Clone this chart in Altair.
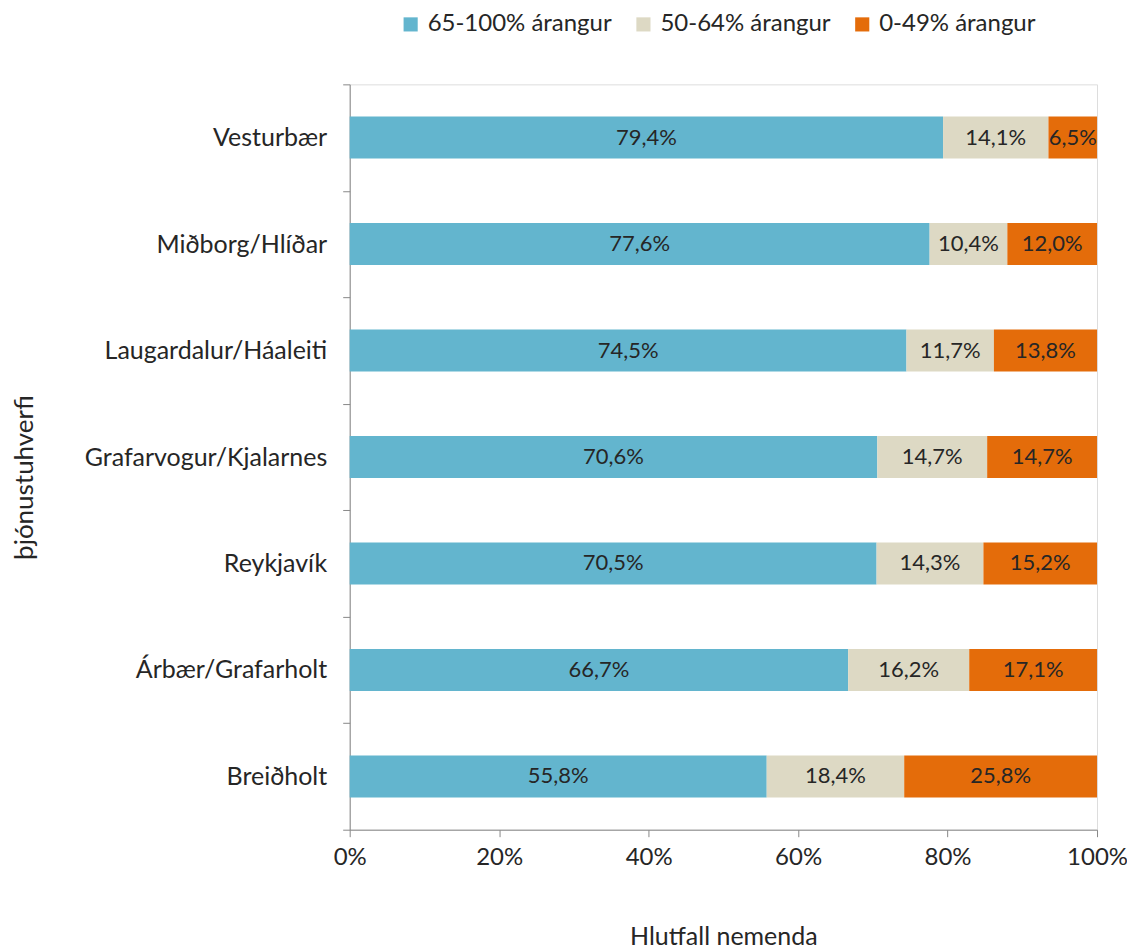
import altair as alt
import pandas as pd

categories = ["Vesturbær", "Miðborg/Hlíðar", "Laugardalur/Háaleiti",
              "Grafarvogur/Kjalarnes", "Reykjavík", "Árbær/Grafarholt", "Breiðholt"]
series = ["65-100% árangur", "50-64% árangur", "0-49% árangur"]
v_high = [79.4, 77.6, 74.5, 70.6, 70.5, 66.7, 55.8]
v_mid = [14.1, 10.4, 11.7, 14.7, 14.3, 16.2, 18.4]
v_low = [6.5, 12.0, 13.8, 14.7, 15.2, 17.1, 25.8]
colors = ["#63B5CE", "#DDD9C4", "#E46C0A"]

rows = []
for i, c in enumerate(categories):
    for j, (s, vals) in enumerate(zip(series, [v_high, v_mid, v_low])):
        v = vals[i]
        rows.append({"cat": c, "series": s, "order": j, "value": v,
                     "label": f"{v:.1f}".replace(".", ",") + "%"})
df = pd.DataFrame(rows)

FONT = "Lato"
TXT = "#262626"

base = alt.Chart(df).transform_stack(
    stack="value", groupby=["cat"], as_=["x0", "x1"],
    sort=[alt.SortField("order", order="ascending")]
).transform_calculate(mid="(datum.x0 + datum.x1) / 2")

yenc = alt.Y("cat:N", sort=categories,
             scale=alt.Scale(paddingInner=0, paddingOuter=0),
             axis=alt.Axis(title="þjónustuhverfi", tickBand="extent", tickSize=7,
                           labelPadding=16, labelFontSize=25, labelColor=TXT,
                           labelFont=FONT, labelLimit=0,
                           domainColor="#888888", tickColor="#888888",
                           titleFont=FONT, titleFontSize=26, titleFontWeight="normal",
                           titleColor=TXT, titleX=-325, titleY=393, titleAngle=270,
                           titleBaseline="middle", titleAlign="center"))

bars = base.mark_bar(height=42).encode(
    x=alt.X("x0:Q", scale=alt.Scale(domain=[0, 100], nice=False),
            axis=alt.Axis(values=[0, 20, 40, 60, 80, 100],
                          labelExpr="datum.value + '%'", grid=False, tickSize=7,
                          labelFlush=False, labelPadding=9, labelFontSize=24,
                          labelColor=TXT, labelFont=FONT,
                          domainColor="#888888", tickColor="#888888",
                          title="Hlutfall nemenda", titleFont=FONT, titleFontSize=25,
                          titleFontWeight="normal", titleColor=TXT, titleY=107,
                          titleBaseline="middle")),
    x2="x1:Q",
    y=yenc,
    color=alt.Color("series:N", sort=series,
                    scale=alt.Scale(domain=series, range=colors),
                    legend=alt.Legend(title=None, orient="none", legendX=49, legendY=-72,
                                      direction="horizontal", symbolType="square",
                                      symbolSize=200, symbolStrokeWidth=0,
                                      labelFontSize=24, labelFont=FONT, labelColor=TXT,
                                      labelLimit=0, columnPadding=19, labelOffset=5)),
    order=alt.Order("order:Q"),
)

texts = base.mark_text(font=FONT, fontSize=22, color=TXT).encode(
    x="mid:Q",
    y=alt.Y("cat:N", sort=categories),
    text="label:N",
)

chart = alt.layer(bars, texts).properties(
    width=748, height=746,
    autosize=alt.AutoSizeParams(type="none"),
    padding={"left": 342, "top": 76, "right": 30, "bottom": 130},
).configure_view(stroke=None).configure(background="white")

chart.save("out.html", embed_options={"renderer": "svg", "actions": False})
